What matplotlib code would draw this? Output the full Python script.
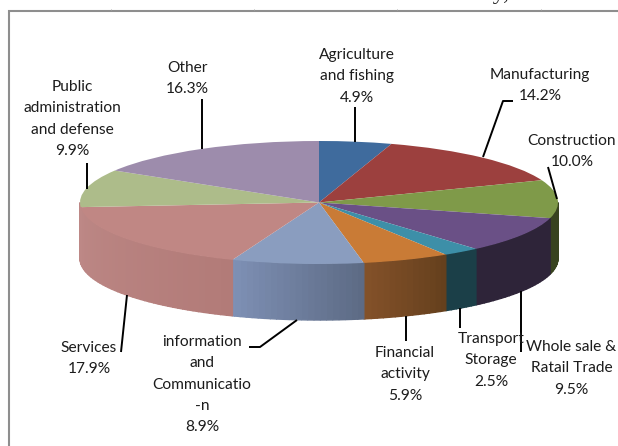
import numpy as np
import matplotlib
matplotlib.use("Agg")
import matplotlib.pyplot as plt
from matplotlib.colors import to_rgb

# share of GDP per sector, clockwise from twelve o'clock
sectors = ["Agriculture\nand fishing", "Manufacturing", "Construction", "Whole sale &\nRatail Trade",
           "Transport\nStorage", "Financial\nactivity", "information\nand\nCommunicatio\n-n",
           "Services", "Public\nadministration\nand defense", "Other"]
shares = [4.9, 14.2, 10.0, 9.5, 2.5, 5.9, 8.9, 17.9, 9.9, 16.3]

top_colors = ["#3f6b9d", "#9c403e", "#7f9a49", "#6a5086", "#3d8fa8",
              "#c97b36", "#8a9dbf", "#c08784", "#adbc8a", "#9d8cac"]
wall_left = ["#3f6b9d", "#9c403e", "#38431f", "#2e2439", "#1b3f48",
             "#85522a", "#7f91b6", "#bd8886", "#bd8886", "#9d8cac"]
wall_right = ["#3f6b9d", "#9c403e", "#38431f", "#2e2439", "#1b3f48",
              "#65401d", "#5d6b85", "#b27b78", "#bd8886", "#9d8cac"]

# label anchor (centre x, first line y) in pixels
label_pos = [(357, 55), (540, 75), (572, 141), (571.5, 347), (491, 339),
             (405, 353), (202, 342), (89, 348), (72, 87), (187, 68)]
leaders = [[(355, 107), (355, 142)],
           [(513, 101), (503, 101), (483, 157)],
           [(548, 167), (557, 199)],
           [(520.5, 291), (520.5, 352)],
           [(460, 308), (460, 328)],
           [(406, 316), (406, 341)],
           [(249, 347), (260, 347), (297, 320)],
           [(127, 295), (121, 352)],
           [(87, 163), (87, 189)],
           [(202, 99), (202, 149)]]

W, H = 618, 446
CX, CY, RX, RY = 319.0, 202.5, 239.0, 61.5
DEPTH = 56.0 / RY

fig = plt.figure(figsize=(W / 100, H / 100), dpi=100, facecolor="white")

# pie axes: unit circle stretched into the tilted ellipse
pie_ax = fig.add_axes([0, 0, 1, 1])
edges = np.cumsum([0] + shares) / 100 * 360


def wall_strip(a0, a1, col):
    t = np.radians([a0, a1])
    x, y = np.sin(t), np.cos(t)
    pie_ax.fill([x[0], x[1], x[1], x[0]], [y[0], y[1], y[1] - DEPTH, y[0] - DEPTH],
                color=col, lw=1.0, zorder=1)


# side of the cake, only the front half shows; angle runs right to left
for i in range(len(shares)):
    a0, a1 = max(edges[i], 90), min(edges[i + 1], 270)
    if a1 <= a0:
        continue
    steps = np.arange(a0, a1, 1.5).tolist() + [a1]
    c_right, c_left = np.array(to_rgb(wall_right[i])), np.array(to_rgb(wall_left[i]))
    for s0, s1 in zip(steps[:-1], steps[1:]):
        f = (s0 - a0) / (a1 - a0)
        wall_strip(s0, s1, tuple(c_right + (c_left - c_right) * f))

wedges, _ = pie_ax.pie(shares, colors=top_colors, startangle=90, counterclock=False, radius=1.0)
for w in wedges:
    w.set_zorder(2)
pie_ax.set_aspect("auto")
pie_ax.set_xlim(-CX / RX, (W - CX) / RX)
pie_ax.set_ylim((CY - H) / RY, CY / RY)
pie_ax.axis("off")

# overlay in pixel coordinates for frame and labels
ax = fig.add_axes([0, 0, 1, 1])
ax.set_xlim(0, W)
ax.set_ylim(H, 0)
ax.axis("off")

ax.plot([9, 9, W], [H, 10.5, 10.5], color="#8e8e8e", lw=1.5, solid_joinstyle="miter")
ax.vlines([111, 254, 397, 541], 8.5, 10, color="#a8a8a8", lw=0.7)

# heading of the surrounding page, cut off by the top edge
ax.text(46, -1.2, "Gross Domestic Product Distribution in Country, 20", family="Liberation Serif",
        fontsize=17, ha="left", va="baseline", color="#222222", clip_on=True)

for path in leaders:
    xs, ys = zip(*path)
    ax.plot(xs, ys, color="black", lw=1.4, solid_capstyle="butt")

LINE = 21.3
for name, share, (x, y) in zip(sectors, shares, label_pos):
    lines = name.split("\n") + ["%.1f%%" % share]
    for j, line in enumerate(lines):
        ax.text(x, y + j * LINE, line, family="Lato", fontsize=11.2, ha="center", va="center",
                color="#1c1c1c", clip_on=True)

fig.savefig("out.png", dpi=100)
